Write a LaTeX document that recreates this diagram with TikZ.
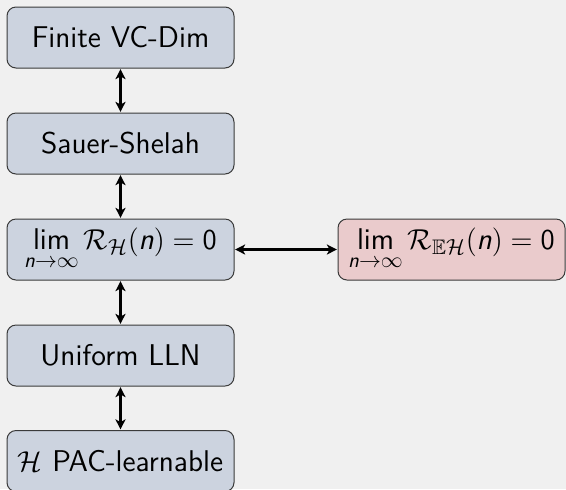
\documentclass[tikz,border=0pt]{standalone}
\usepackage{amsmath,amssymb}
\usetikzlibrary{arrows.meta}
\definecolor{bgc}{HTML}{F0F0F0}
\definecolor{boxblue}{HTML}{CCD3DF}
\definecolor{boxpink}{HTML}{EACBCC}
\definecolor{edgec}{HTML}{3A3A3A}
\newcommand{\sn}{\text{\sffamily\itshape n}}
\newcommand{\slim}{\mathop{\text{\sffamily lim}}\limits}
\begin{document}
\begin{tikzpicture}[x=0.5pt,y=-0.5pt,
  box/.style={draw=edgec, line width=0.5pt, rounded corners=4.5pt,
    minimum width=113.5pt, minimum height=30.5pt, inner sep=2pt,
    font=\sffamily\fontsize{15}{18}\selectfont, fill=boxblue},
  pinkbox/.style={box, fill=boxpink},
  biarrow/.style={{Stealth[length=5pt,width=5pt,inset=1.3pt]}-{Stealth[length=5pt,width=5pt,inset=1.3pt]}, line width=1.1pt, shorten <=0.3pt, shorten >=0.3pt}]
\fill[bgc] (0,0) rectangle (566,489);
\useasboundingbox (0,0) rectangle (566,489);
\node[box] (vc) at (120.5,37.5) {Finite VC-Dim};
\node[box] (ss) at (120.5,143.5) {Sauer-Shelah};
\node[box] (rh) at (120.5,249.5) {$\slim_{\sn\to\infty}\mathcal{R}_{\mathcal{H}}(\sn)=\mathsf{0}$};
\node[pinkbox] (reh) at (451.5,249.5) {$\slim_{\sn\to\infty}\mathcal{R}_{\mathbb{E}\mathcal{H}}(\sn)=\mathsf{0}$};
\node[box] (lln) at (120.5,355.5) {Uniform LLN};
\node[box] (pac) at (120.5,461) {$\mathcal{H}$ PAC-learnable};
\draw[biarrow] (vc) -- (ss);
\draw[biarrow] (ss) -- (rh);
\draw[biarrow] (rh) -- (lln);
\draw[biarrow] (lln) -- (pac);
\draw[biarrow] (rh) -- (reh);
\end{tikzpicture}
\end{document}
